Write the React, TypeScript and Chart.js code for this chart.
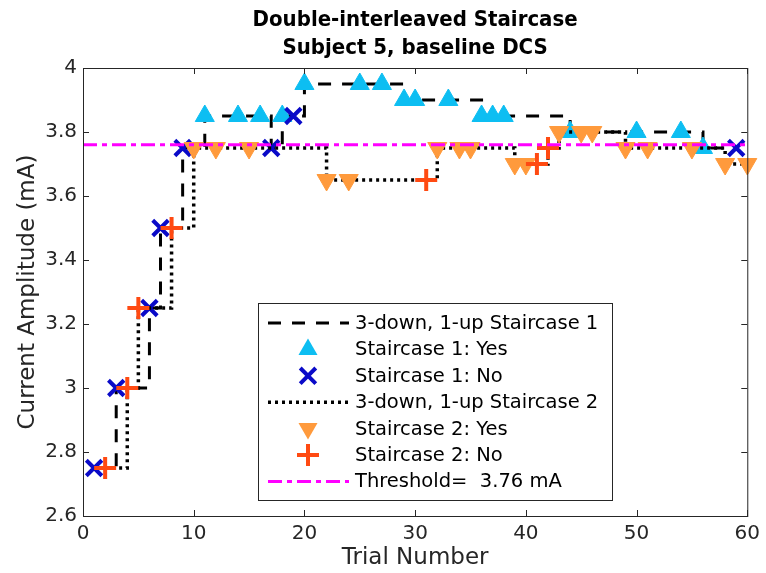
import React, { useEffect, useRef } from 'react';
import { Chart, registerables } from 'chart.js';

Chart.register(...registerables);

// ---------- data ----------
const titleLines = ['Double-interleaved Staircase', 'Subject 5, baseline DCS'];
const xAxisTitle = 'Trial Number';
const yAxisTitle = 'Current Amplitude (mA)';
const xTickValues = [0, 10, 20, 30, 40, 50, 60];
const yTickValues = [2.6, 2.8, 3, 3.2, 3.4, 3.6, 3.8, 4];

const trialsS1 = [1, 3, 6, 7, 9, 11, 14, 16, 17, 18, 19, 20, 25, 27, 29, 30, 33, 36, 37, 38, 44, 50, 54, 56, 59];
const ampS1 = [2.75, 3.0, 3.25, 3.5, 3.75, 3.85, 3.85, 3.85, 3.75, 3.85, 3.85, 3.95, 3.95, 3.95, 3.9, 3.9, 3.9, 3.85, 3.85, 3.85, 3.8, 3.8, 3.8, 3.75, 3.75];
const respS1 = ['N', 'N', 'N', 'N', 'N', 'Y', 'Y', 'Y', 'N', 'Y', 'N', 'Y', 'Y', 'Y', 'Y', 'Y', 'Y', 'Y', 'Y', 'Y', 'Y', 'Y', 'Y', 'Y', 'N'];

const trialsS2 = [2, 4, 5, 8, 10, 12, 15, 22, 24, 31, 32, 34, 35, 39, 40, 41, 42, 43, 45, 46, 49, 51, 55, 58, 60];
const ampS2 = [2.75, 3.0, 3.25, 3.5, 3.75, 3.75, 3.75, 3.65, 3.65, 3.65, 3.75, 3.75, 3.75, 3.7, 3.7, 3.7, 3.75, 3.8, 3.8, 3.8, 3.75, 3.75, 3.75, 3.7, 3.7];
const respS2 = ['N', 'N', 'N', 'N', 'Y', 'Y', 'Y', 'Y', 'Y', 'N', 'Y', 'Y', 'Y', 'Y', 'Y', 'N', 'N', 'Y', 'Y', 'Y', 'Y', 'Y', 'Y', 'Y', 'Y'];

const thresholdMA = [3.76];

const legendLabels = [
  '3-down, 1-up Staircase 1',
  'Staircase 1: Yes',
  'Staircase 1: No',
  '3-down, 1-up Staircase 2',
  'Staircase 2: Yes',
  'Staircase 2: No',
  'Threshold=  ' + thresholdMA[0].toFixed(2) + ' mA',
];

// ---------- styles ----------
const FONT = "'DejaVu Sans', Verdana, sans-serif";
const TITLE_FONT = "'DejaVu Sans Condensed', 'DejaVu Sans', sans-serif";
const TXT = '#262626';
const CYAN = '#0DBEF2';
const BLUE = '#0A0AC8';
const ORANGE = '#FF9A3C';
const RED = '#FF4A12';
const MAGENTA = '#FF00FF';
const DASH1 = [13, 11];
const DASH2 = [3, 4];
const DASH_T = [14, 5, 5, 5];

const toPts = (t: number[], a: number[]) => t.map((x, i) => ({ x, y: a[i] }));
const pick = (t: number[], a: number[], r: string[], want: string) =>
  toPts(t, a).filter((_, i) => r[i] === want);

function drawMarker(ctx: CanvasRenderingContext2D, kind: string, x: number, y: number, color: string) {
  ctx.save();
  ctx.setLineDash([]);
  ctx.fillStyle = color;
  ctx.strokeStyle = color;
  const r = 11;
  if (kind === 'up' || kind === 'down') {
    const s = kind === 'up' ? 1 : -1;
    ctx.beginPath();
    ctx.moveTo(x, y - s * r);
    ctx.lineTo(x + r * 0.866, y + s * r / 2);
    ctx.lineTo(x - r * 0.866, y + s * r / 2);
    ctx.closePath();
    ctx.fill();
  } else if (kind === 'x') {
    const d = r * 0.7071;
    ctx.lineWidth = 4;
    ctx.beginPath();
    ctx.moveTo(x - d, y - d);
    ctx.lineTo(x + d, y + d);
    ctx.moveTo(x + d, y - d);
    ctx.lineTo(x - d, y + d);
    ctx.stroke();
  } else if (kind === 'plus') {
    ctx.lineWidth = 4;
    ctx.beginPath();
    ctx.moveTo(x - r, y);
    ctx.lineTo(x + r, y);
    ctx.moveTo(x, y - r);
    ctx.lineTo(x, y + r);
    ctx.stroke();
  }
  ctx.restore();
}

const framePlugin = {
  id: 'matlabFrame',
  afterDatasetsDraw(chart: any) {
    const { ctx, chartArea: a, scales } = chart;
    const { left, right, top, bottom } = a;
    ctx.save();
    // axes box
    ctx.strokeStyle = TXT;
    ctx.lineWidth = 1;
    ctx.setLineDash([]);
    ctx.strokeRect(left + 0.5, top + 0.5, right - left, bottom - top);
    // inward ticks
    const tl = 6;
    ctx.beginPath();
    xTickValues.forEach((v) => {
      const px = Math.round(scales.x.getPixelForValue(v)) + 0.5;
      ctx.moveTo(px, bottom);
      ctx.lineTo(px, bottom - tl);
      ctx.moveTo(px, top);
      ctx.lineTo(px, top + tl);
    });
    yTickValues.forEach((v) => {
      const py = Math.round(scales.y.getPixelForValue(v)) + 0.5;
      ctx.moveTo(left, py);
      ctx.lineTo(left + tl, py);
      ctx.moveTo(right, py);
      ctx.lineTo(right - tl, py);
    });
    ctx.stroke();

    // titles
    const cx = (left + right) / 2;
    ctx.fillStyle = '#000';
    ctx.textAlign = 'center';
    ctx.textBaseline = 'middle';
    ctx.font = 'bold 22px ' + TITLE_FONT;
    ctx.fillText(titleLines[0], cx, 20);
    ctx.fillText(titleLines[1], cx, 48);

    // axis titles
    ctx.fillStyle = TXT;
    ctx.font = '23px ' + FONT;
    ctx.fillText(xAxisTitle, cx, 558);
    ctx.save();
    ctx.translate(28, (top + bottom) / 2);
    ctx.rotate(-Math.PI / 2);
    ctx.fillText(yAxisTitle, 0, 0);
    ctx.restore();

    // legend
    const bx = 258, by = 303, bw = 354, bh = 197;
    ctx.fillStyle = '#fff';
    ctx.fillRect(bx, by, bw, bh);
    ctx.strokeStyle = TXT;
    ctx.lineWidth = 1;
    ctx.strokeRect(bx + 0.5, by + 0.5, bw, bh);
    const rowH = 26.4;
    const y0 = by + 20;
    const items = [
      { kind: 'line', color: '#000', dash: DASH1, w: 3 },
      { kind: 'up', color: CYAN },
      { kind: 'x', color: BLUE },
      { kind: 'line', color: '#000', dash: DASH2, w: 3.5 },
      { kind: 'down', color: ORANGE },
      { kind: 'plus', color: RED },
      { kind: 'line', color: MAGENTA, dash: DASH_T, w: 3 },
    ];
    items.forEach((it: any, i) => {
      const y = y0 + i * rowH;
      if (it.kind === 'line') {
        ctx.save();
        ctx.strokeStyle = it.color;
        ctx.lineWidth = it.w;
        ctx.setLineDash(it.dash);
        ctx.beginPath();
        ctx.moveTo(268, y);
        ctx.lineTo(349, y);
        ctx.stroke();
        ctx.restore();
      } else {
        drawMarker(ctx, it.kind, 308, y, it.color);
      }
      ctx.fillStyle = '#000';
      ctx.textAlign = 'left';
      ctx.textBaseline = 'middle';
      ctx.font = '19.5px ' + FONT;
      ctx.fillText(legendLabels[i], 355, y + 1);
    });
    ctx.restore();
  },
};

export default function App() {
  const ref = useRef<HTMLCanvasElement | null>(null);
  useEffect(() => {
    if (!ref.current) return;
    const xMin = xTickValues[0];
    const xMax = xTickValues[xTickValues.length - 1];
    const chart = new Chart(ref.current, {
      type: 'line',
      data: {
        datasets: [
          {
            label: legendLabels[0],
            data: toPts(trialsS1, ampS1),
            borderColor: '#000',
            borderWidth: 3,
            borderDash: DASH1,
            stepped: 'before',
            pointRadius: 0,
            fill: false,
            order: 7,
          },
          {
            label: legendLabels[1],
            data: pick(trialsS1, ampS1, respS1, 'Y'),
            showLine: false,
            pointStyle: 'triangle',
            pointRadius: 11,
            pointBackgroundColor: CYAN,
            pointBorderColor: CYAN,
            pointBorderWidth: 1,
            clip: false,
            order: 6,
          },
          {
            label: legendLabels[2],
            data: pick(trialsS1, ampS1, respS1, 'N'),
            showLine: false,
            pointStyle: 'crossRot',
            pointRadius: 11,
            pointBorderColor: BLUE,
            pointBorderWidth: 4,
            clip: false,
            order: 5,
          },
          {
            label: legendLabels[3],
            data: toPts(trialsS2, ampS2),
            borderColor: '#000',
            borderWidth: 3.5,
            borderDash: DASH2,
            stepped: 'before',
            pointRadius: 0,
            fill: false,
            order: 4,
          },
          {
            label: legendLabels[4],
            data: pick(trialsS2, ampS2, respS2, 'Y'),
            showLine: false,
            pointStyle: 'triangle',
            rotation: 180,
            pointRotation: 180,
            pointRadius: 11,
            pointBackgroundColor: ORANGE,
            pointBorderColor: ORANGE,
            pointBorderWidth: 1,
            clip: false,
            order: 3,
          },
          {
            label: legendLabels[5],
            data: pick(trialsS2, ampS2, respS2, 'N'),
            showLine: false,
            pointStyle: 'cross',
            pointRadius: 11,
            pointBorderColor: RED,
            pointBorderWidth: 4,
            clip: false,
            order: 2,
          },
          {
            label: legendLabels[6],
            data: [
              { x: xMin, y: thresholdMA[0] },
              { x: xMax, y: thresholdMA[0] },
            ],
            borderColor: MAGENTA,
            borderWidth: 3,
            borderDash: DASH_T,
            pointRadius: 0,
            fill: false,
            order: 1,
          },
        ] as any,
      },
      options: {
        animation: false,
        responsive: false,
        maintainAspectRatio: false,
        devicePixelRatio: 1,
        events: [],
        layout: { padding: { top: 68, right: 14, left: 0, bottom: 0 } },
        plugins: {
          legend: { display: false },
          title: { display: false },
          tooltip: { enabled: false },
        },
        scales: {
          x: {
            type: 'linear',
            min: xMin,
            max: xMax,
            grid: { display: false, drawTicks: false },
            border: { display: false },
            ticks: {
              font: { family: FONT, size: 20 },
              color: TXT,
              padding: 6,
              maxRotation: 0,
              autoSkip: false,
              callback: (v: any) => String(v),
            },
            afterBuildTicks: (s: any) => {
              s.ticks = xTickValues.map((v) => ({ value: v }));
            },
            afterFit: (s: any) => {
              s.height = 57;
            },
          },
          y: {
            type: 'linear',
            min: yTickValues[0],
            max: yTickValues[yTickValues.length - 1],
            grid: { display: false, drawTicks: false },
            border: { display: false },
            ticks: {
              font: { family: FONT, size: 20 },
              color: TXT,
              padding: 6,
              autoSkip: false,
              callback: (v: any) => String(Number(Number(v).toFixed(2))),
            },
            afterBuildTicks: (s: any) => {
              s.ticks = yTickValues.map((v) => ({ value: v }));
            },
            afterFit: (s: any) => {
              s.width = 83;
            },
          },
        },
      } as any,
      plugins: [framePlugin],
    });
    return () => chart.destroy();
  }, []);

  return (
    <div style={{ position: 'absolute', left: 0, top: 0, width: 766, height: 573, background: '#fff' }}>
      <canvas ref={ref} width={766} height={573} style={{ display: 'block' }} />
    </div>
  );
}
